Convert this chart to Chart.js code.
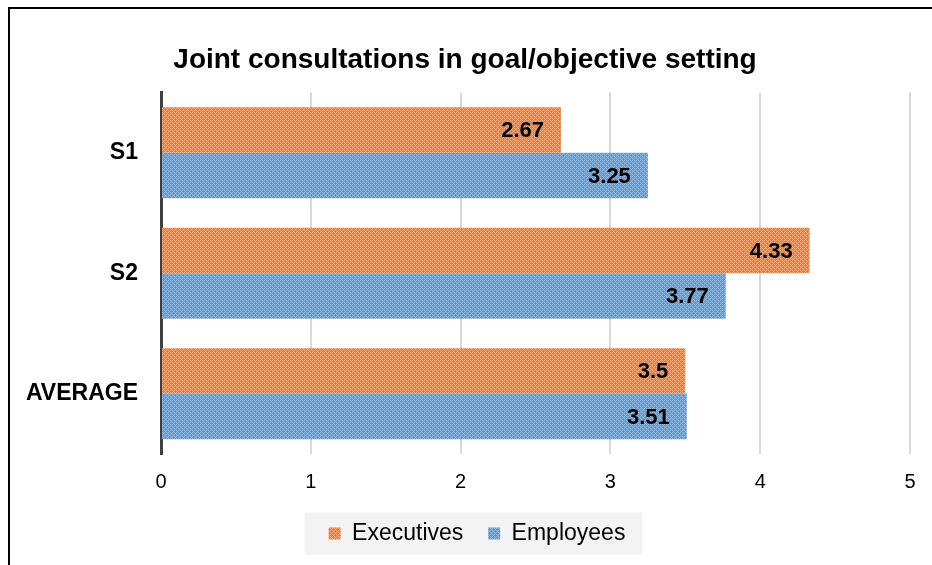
<!DOCTYPE html>
<html>
<head>
<meta charset="utf-8">
<script src="https://cdn.jsdelivr.net/npm/chart.js@4/dist/chart.umd.min.js"></script>
<style>
  html, body { margin: 0; padding: 0; background: #fff; overflow: hidden; }
</style>
</head>
<body>
<canvas id="mycanvas" width="932" height="565"></canvas>
<script>
var categories = ['S1', 'S2', 'AVERAGE'];
var executives = [2.67, 4.33, 3.5];
var employees = [3.25, 3.77, 3.51];
var xTicks = [0, 1, 2, 3, 4, 5];

// small dotted texture like the original bars
function makePattern(base, light) {
  var c = document.createElement('canvas');
  c.width = 4; c.height = 4;
  var g = c.getContext('2d');
  g.fillStyle = base;
  g.fillRect(0, 0, 4, 4);
  g.fillStyle = light;
  g.fillRect(0, 0, 1, 1);
  g.fillRect(2, 0, 1, 1);
  g.fillRect(0, 2, 1, 1);
  g.fillRect(2, 2, 1, 1);
  g.fillRect(1, 3, 1, 1);
  g.fillRect(3, 1, 1, 1);
  return g.createPattern(c, 'repeat');
}

var orangeFill = makePattern('#ED7D31', '#F5A673');
var blueFill = makePattern('#5B9BD5', '#8DB9E3');

// draw value labels at the inner end of each bar
var valueLabels = {
  id: 'valueLabels',
  afterDatasetsDraw: function(chart) {
    var ctx = chart.ctx;
    ctx.save();
    ctx.font = 'bold 22px "Liberation Sans", Arial, sans-serif';
    ctx.fillStyle = '#000';
    ctx.textAlign = 'right';
    ctx.textBaseline = 'middle';
    chart.data.datasets.forEach(function(ds, di) {
      chart.getDatasetMeta(di).data.forEach(function(bar, i) {
        ctx.fillText(String(ds.data[i]), bar.x - 17, bar.y + 1);
      });
    });
    ctx.restore();
  }
};

// outer frame (top + left edge) and legend background
var frame = {
  id: 'frame',
  afterLayout: function(chart) {
    // legend sits a bit right of the canvas centre in the original
    chart.legend.left += 12;
    chart.legend.right += 12;
  },
  beforeDraw: function(chart) {
    var ctx = chart.ctx;
    ctx.save();
    var boxes = chart.legend.legendHitBoxes;
    if (boxes && boxes.length) {
      var l = boxes[0].left - 24;
      var last = boxes[boxes.length - 1];
      var r = last.left + last.width + 17;
      var cy = boxes[0].top + boxes[0].height / 2;
      ctx.fillStyle = '#f3f3f3';
      ctx.fillRect(l, cy - 21, r - l, 42);
    }
    ctx.restore();
  },
  afterDraw: function(chart) {
    var ctx = chart.ctx;
    ctx.save();
    ctx.strokeStyle = '#000';
    ctx.lineWidth = 2;
    ctx.beginPath();
    ctx.moveTo(9, 565);
    ctx.lineTo(9, 8);
    ctx.lineTo(932, 8);
    ctx.stroke();
    ctx.restore();
  }
};

var ctx = document.getElementById('mycanvas');

var barGraph = new Chart(ctx, {
  type: 'bar',
  data: {
    labels: categories,
    datasets: [
      {
        label: 'Executives',
        backgroundColor: orangeFill,
        data: executives,
        categoryPercentage: 0.755,
        barPercentage: 1.0
      },
      {
        label: 'Employees',
        backgroundColor: blueFill,
        data: employees,
        categoryPercentage: 0.755,
        barPercentage: 1.0
      }
    ]
  },
  options: {
    indexAxis: 'y',
    responsive: false,
    animation: false,
    devicePixelRatio: 1,
    layout: { padding: { left: 20, right: 22, top: 0, bottom: 10 } },
    plugins: {
      title: {
        display: true,
        text: 'Joint consultations in goal/objective setting',
        color: '#000',
        font: { family: '"Liberation Sans", Arial, sans-serif', size: 28, weight: 'bold' },
        padding: { top: 43, bottom: 16 }
      },
      legend: {
        position: 'bottom',
        labels: {
          color: '#000',
          font: { family: '"Liberation Sans", Arial, sans-serif', size: 23 },
          boxWidth: 12,
          boxHeight: 12,
          padding: 12,
          generateLabels: function(chart) {
            var items = Chart.defaults.plugins.legend.labels.generateLabels(chart);
            // a little extra room between the two entries
            items[0].text = items[0].text + '  ';
            return items;
          }
        }
      },
      tooltip: { enabled: false }
    },
    scales: {
      x: {
        min: 0,
        max: 5,
        afterBuildTicks: function(axis) {
          axis.ticks = xTicks.map(function(v) { return { value: v }; });
        },
        grid: { color: '#d9d9d9', lineWidth: 2, drawTicks: false },
        border: { display: false },
        ticks: {
          color: '#000',
          padding: 16,
          font: { family: '"Liberation Sans", Arial, sans-serif', size: 20 }
        }
      },
      y: {
        afterFit: function(axis) { axis.width = 141; },
        grid: { display: false },
        border: { display: true, color: '#404040', width: 3 },
        ticks: {
          color: '#000',
          padding: 15,
          font: { family: '"Liberation Sans", Arial, sans-serif', size: 23, weight: 'bold' }
        }
      }
    }
  },
  plugins: [valueLabels, frame]
});
</script>
</body>
</html>
